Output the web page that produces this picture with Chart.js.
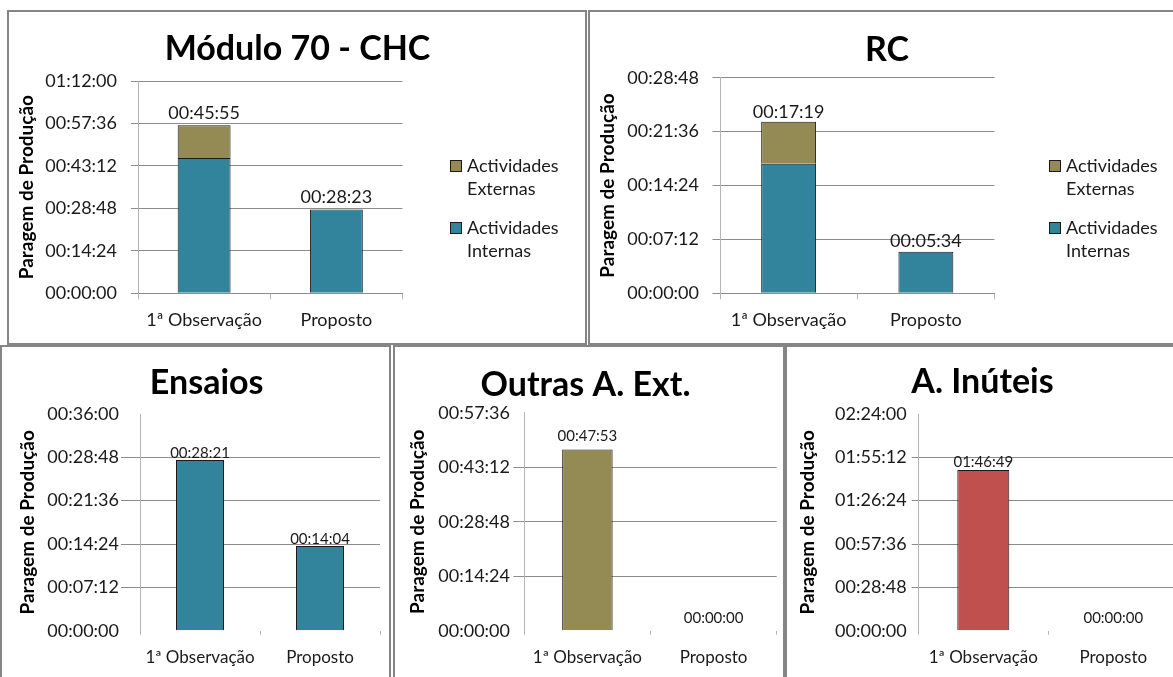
<!DOCTYPE html>
<html lang="pt">
<head>
<meta charset="utf-8">
<title>Paragem de Produção</title>
<script src="https://cdn.jsdelivr.net/npm/chart.js@4.4.1/dist/chart.umd.min.js"></script>
<style>
  body { margin: 0; width: 1173px; height: 677px; overflow: hidden; background: #fff; position: relative; }
  .painel { position: absolute; border: 2px solid #858585; box-sizing: border-box; }
  .painel canvas { position: absolute; left: 0; top: 0; }
</style>
</head>
<body>
<div class="painel" style="left:7px;top:10px;width:580px;height:335px"><canvas id="chartCHC" width="576" height="331"></canvas></div>
<div class="painel" style="left:588px;top:10px;width:600px;height:335px"><canvas id="chartRC" width="596" height="331"></canvas></div>
<div class="painel" style="left:0px;top:345px;width:391px;height:340px"><canvas id="chartEnsaios" width="387" height="336"></canvas></div>
<div class="painel" style="left:393px;top:345px;width:392px;height:340px"><canvas id="chartOutras" width="388" height="336"></canvas></div>
<div class="painel" style="left:785px;top:345px;width:400px;height:340px"><canvas id="chartInuteis" width="396" height="336"></canvas></div>

<script>
const categorias = ["1ª Observação", "Proposto"];

// Módulo 70 - CHC
const chcInternas = ["00:45:55", "00:28:23"];
const chcExternas = ["00:11:03", "00:00:00"];
const chcEixo = ["00:00:00", "00:14:24", "00:28:48", "00:43:12", "00:57:36", "01:12:00"];

// RC
const rcInternas = ["00:17:19", "00:05:34"];
const rcExternas = ["00:05:36", "00:00:00"];
const rcEixo = ["00:00:00", "00:07:12", "00:14:24", "00:21:36", "00:28:48"];

// Ensaios
const ensaiosTempos = ["00:28:21", "00:14:04"];
const ensaiosEixo = ["00:00:00", "00:07:12", "00:14:24", "00:21:36", "00:28:48", "00:36:00"];

// Outras A. Ext.
const outrasTempos = ["00:47:53", "00:00:00"];
const outrasEixo = ["00:00:00", "00:14:24", "00:28:48", "00:43:12", "00:57:36"];

// A. Inúteis
const inuteisTempos = ["01:46:49", "00:00:00"];
const inuteisEixo = ["00:00:00", "00:28:48", "00:57:36", "01:26:24", "01:55:12", "02:24:00"];

const corInternas = "#31849b";
const corExternas = "#948a54";
const corInuteis = "#c0504d";
const corGrelha = "#8c8c8c";
const corEixo = "#b4b4b4";
const corTexto = "#1a1a1a";

Chart.defaults.font.family = "Lato, 'Open Sans', sans-serif";
Chart.defaults.color = corTexto;
Chart.defaults.animation = false;

function paraSegundos(t) {
  const [h, m, s] = t.split(":").map(Number);
  return h * 3600 + m * 60 + s;
}

function formatarTempo(seg) {
  const h = Math.floor(seg / 3600);
  const m = Math.floor((seg % 3600) / 60);
  const s = Math.round(seg % 60);
  return [h, m, s].map((n) => String(n).padStart(2, "0")).join(":");
}

// titulo, rotulos por cima das barras e legenda (duas linhas)
function extrasPainel(cfg) {
  return {
    id: "extrasPainel",
    afterDatasetsDraw(chart) {
      const c = chart.ctx;
      c.save();
      c.textAlign = "center";
      c.textBaseline = "middle";
      c.fillStyle = "#000";
      c.font = "bold 34px Lato";
      c.fillText(cfg.titulo, cfg.tituloX, cfg.tituloY);

      const metas = chart.data.datasets.map((d, i) => chart.getDatasetMeta(i));
      c.font = cfg.rotuloFonte + "px Lato";
      c.fillStyle = corTexto;
      chart.data.labels.forEach((cat, i) => {
        const valor = chart.data.datasets[0].data[i];
        const topo = Math.min(...metas.map((m) => m.data[i].y));
        const dist = valor === 0 ? 13 : cfg.rotuloDist;
        c.fillText(formatarTempo(valor), metas[0].data[i].x, topo - dist);
      });

      if (cfg.legenda) {
        c.font = "18px Lato";
        c.textAlign = "left";
        const itens = chart.data.datasets.slice().reverse();
        itens.forEach((d, k) => {
          const y = cfg.legenda.y + k * 62;
          c.fillStyle = d.backgroundColor;
          c.fillRect(cfg.legenda.x, y - 6, 12, 12);
          c.strokeStyle = corTexto;
          c.lineWidth = 1;
          c.strokeRect(cfg.legenda.x + 0.5, y - 5.5, 11, 11);
          c.fillStyle = corTexto;
          d.label.split(" ").forEach((linha, j) => {
            c.fillText(linha, cfg.legenda.x + 17, y + j * 23);
          });
        });
      }
      c.restore();
    },
  };
}

function desenharPainel(id, series, eixo, cfg) {
  const eixoSeg = eixo.map(paraSegundos);
  const ultimo = eixoSeg.length - 1;
  const ctx = document.getElementById(id).getContext("2d");

  return new Chart(ctx, {
    type: "bar",
    data: {
      labels: categorias,
      datasets: series.map((s) => ({
        label: s.nome,
        data: s.tempos.map(paraSegundos),
        backgroundColor: s.cor,
        borderColor: corTexto,
        borderWidth: (c) => (c.raw === 0 ? 0 : 1),
        borderSkipped: "start",
        barPercentage: 0.4,
        categoryPercentage: 1,
      })),
    },
    options: {
      responsive: false,
      layout: { padding: cfg.margens },
      plugins: { legend: { display: false }, tooltip: { enabled: false } },
      scales: {
        x: {
          stacked: true,
          grid: { drawOnChartArea: false, color: corEixo, tickLength: cfg.xTraco },
          border: { display: cfg.linhaBase, color: corGrelha },
          ticks: {
            font: { size: cfg.xFonte },
            padding: cfg.xEspaco,
            maxRotation: 0,
            autoSkip: false,
          },
          afterFit: (s) => {
            s.height = 40;
          },
        },
        y: {
          stacked: true,
          min: eixoSeg[0],
          max: eixoSeg[ultimo],
          ticks: {
            stepSize: eixoSeg[1] - eixoSeg[0],
            font: { size: 18 },
            padding: cfg.yEspaco,
            callback: (v) => formatarTempo(v),
          },
          grid: {
            color: (c) =>
              cfg.semExtremos && (c.index === 0 || c.index === ultimo) ? "rgba(0,0,0,0)" : corGrelha,
            tickLength: cfg.yTraco,
          },
          border: { color: corEixo },
          title: {
            display: true,
            text: "Paragem de Produção",
            color: "#000",
            font: { size: 19, weight: "bold" },
            padding: { top: cfg.yTituloEspaco, bottom: 0 },
          },
          afterFit: (s) => {
            s.width = cfg.yLargura;
          },
        },
      },
    },
    plugins: [extrasPainel(cfg)],
  });
}

const baseTopo = { yTraco: 7, xTraco: 6, xEspaco: 9.9, xFonte: 18, linhaBase: true, semExtremos: false, rotuloFonte: 18 };
const baseFundo = { xTraco: 4, xEspaco: 13.1, xFonte: 17, linhaBase: false, semExtremos: true, rotuloFonte: 15 };

desenharPainel(
  "chartCHC",
  [
    { nome: "Actividades Internas", tempos: chcInternas, cor: corInternas },
    { nome: "Actividades Externas", tempos: chcExternas, cor: corExternas },
  ],
  chcEixo,
  Object.assign({}, baseTopo, {
    titulo: "Módulo 70 - CHC", tituloX: 288.5, tituloY: 37,
    margens: { top: 69, right: 182.5, bottom: 9.7, left: 0 },
    yLargura: 129, yEspaco: 14, yTituloEspaco: 6.6,
    rotuloDist: 12, legenda: { x: 441, y: 154 },
  })
);

desenharPainel(
  "chartRC",
  [
    { nome: "Actividades Internas", tempos: rcInternas, cor: corInternas },
    { nome: "Actividades Externas", tempos: rcExternas, cor: corExternas },
  ],
  rcEixo,
  Object.assign({}, baseTopo, {
    titulo: "RC", tituloX: 297, tituloY: 38,
    margens: { top: 65.7, right: 191.5, bottom: 9.7, left: 0 },
    yLargura: 130, yTraco: 7.5, yEspaco: 13.5, yTituloEspaco: 6.1,
    rotuloDist: 10, legenda: { x: 459, y: 154 },
  })
);

desenharPainel(
  "chartEnsaios",
  [{ nome: "Ensaios", tempos: ensaiosTempos, cor: corInternas }],
  ensaiosEixo,
  Object.assign({}, baseFundo, {
    titulo: "Ensaios", tituloX: 204.7, tituloY: 36,
    margens: { top: 67, right: 9, bottom: 12.3, left: 0 },
    yLargura: 138, yTraco: 19, yEspaco: 2, yTituloEspaco: 14.6,
    rotuloDist: 7,
  })
);

desenharPainel(
  "chartOutras",
  [{ nome: "Outras A. Ext.", tempos: outrasTempos, cor: corExternas }],
  outrasEixo,
  Object.assign({}, baseFundo, {
    titulo: "Outras A. Ext.", tituloX: 190.5, tituloY: 38,
    margens: { top: 65.7, right: 6.3, bottom: 12.3, left: 0 },
    yLargura: 129.3, yTraco: 11, yEspaco: 3.3, yTituloEspaco: 11.9,
    rotuloDist: 13,
  })
);

desenharPainel(
  "chartInuteis",
  [{ nome: "A. Inúteis", tempos: inuteisTempos, cor: corInuteis }],
  inuteisEixo,
  Object.assign({}, baseFundo, {
    titulo: "A. Inúteis", tituloX: 195.5, tituloY: 34.7,
    margens: { top: 67, right: 4.7, bottom: 12.3, left: 0 },
    yLargura: 131.3, yTraco: 6.6, yEspaco: 5, yTituloEspaco: 9.9,
    rotuloDist: 8,
  })
);
</script>
</body>
</html>
